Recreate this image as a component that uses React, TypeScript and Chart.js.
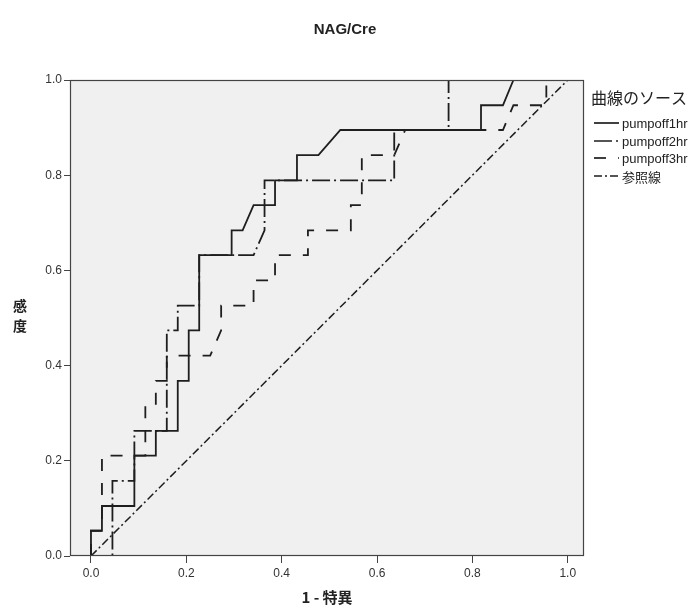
import React, { useEffect, useRef } from "react";
import { Chart, registerables } from "chart.js";
Chart.register(...registerables);

// ROC curve data (1 - specificity, sensitivity)
const fpr1 = [0, 0, 0.023, 0.023, 0.091, 0.091, 0.136, 0.136, 0.182, 0.182, 0.205, 0.205, 0.227, 0.227, 0.295, 0.295, 0.318, 0.341, 0.386, 0.386, 0.432, 0.432, 0.477, 0.523, 0.818, 0.818, 0.864, 0.886, 1];
const tpr1 = [0, 0.053, 0.053, 0.105, 0.105, 0.211, 0.211, 0.263, 0.263, 0.368, 0.368, 0.474, 0.474, 0.632, 0.632, 0.684, 0.684, 0.737, 0.737, 0.789, 0.789, 0.842, 0.842, 0.895, 0.895, 0.947, 0.947, 1, 1];

const fpr2 = [0, 0.045, 0.045, 0.091, 0.091, 0.159, 0.159, 0.182, 0.182, 0.227, 0.227, 0.341, 0.364, 0.364, 0.636, 0.636, 0.75, 0.75, 1];
const tpr2 = [0, 0, 0.158, 0.158, 0.263, 0.263, 0.474, 0.474, 0.526, 0.526, 0.632, 0.632, 0.684, 0.789, 0.789, 0.895, 0.895, 1, 1];

const fpr3 = [0, 0, 0.023, 0.023, 0.114, 0.114, 0.136, 0.136, 0.159, 0.159, 0.25, 0.273, 0.273, 0.341, 0.341, 0.386, 0.386, 0.455, 0.455, 0.545, 0.545, 0.568, 0.568, 0.636, 0.659, 0.864, 0.886, 0.955, 0.955, 1];
const tpr3 = [0, 0.053, 0.053, 0.211, 0.211, 0.316, 0.316, 0.368, 0.368, 0.421, 0.421, 0.474, 0.526, 0.526, 0.579, 0.579, 0.632, 0.632, 0.684, 0.684, 0.737, 0.737, 0.842, 0.842, 0.895, 0.895, 0.947, 0.947, 1, 1];

const fprRef = [0, 1];
const tprRef = [0, 1];

const xTicks = [0, 0.2, 0.4, 0.6, 0.8, 1.0];
const yTicks = [0, 0.2, 0.4, 0.6, 0.8, 1.0];
const seriesNames = ["pumpoff1hr", "pumpoff2hr", "pumpoff3hr", "参照線"];
const chartTitle = "NAG/Cre";
const xTitle = "1 - 特異";
const yTitle = "感度";
const legendTitle = "曲線のソース";

const LINE = "#1e1e1e";
const DASHES: number[][] = [[], [18, 4, 2, 4], [12, 12], [8, 3, 2, 3]];
const FONT = "'Liberation Sans', Arial, 'Noto Sans CJK JP', sans-serif";
const CJK = "'Noto Sans CJK JP', 'Liberation Sans', sans-serif";

const toPts = (xs: number[], ys: number[]) => xs.map((x, i) => ({ x, y: ys[i] }));

const decor = {
  id: "decor",
  beforeDraw(chart: any) {
    const { ctx, chartArea: a } = chart;
    ctx.save();
    ctx.fillStyle = "#f0f0f0";
    ctx.fillRect(a.left, a.top, a.right - a.left, a.bottom - a.top);
    ctx.restore();
  },
  afterDatasetsDraw(chart: any) {
    const { ctx, chartArea: a } = chart;
    ctx.save();
    ctx.strokeStyle = "#444";
    ctx.lineWidth = 1.2;
    ctx.setLineDash([]);
    ctx.strokeRect(a.left + 0.5, a.top + 0.5, a.right - a.left - 1, a.bottom - a.top - 1);

    // title
    ctx.fillStyle = "#222";
    ctx.textAlign = "center";
    ctx.textBaseline = "middle";
    ctx.font = `bold 15px ${FONT}`;
    ctx.fillText(chartTitle, 345, 30);

    // x title
    ctx.font = `bold 15px ${CJK}`;
    ctx.fillText(xTitle, (a.left + a.right) / 2, 597);

    // y title (stacked)
    ctx.font = `bold 14px ${CJK}`;
    const chars = Array.from(yTitle);
    chars.forEach((c, i) => ctx.fillText(c, 20, 306 + i * 20));

    // legend
    ctx.textAlign = "left";
    ctx.font = `16px ${CJK}`;
    ctx.fillText(legendTitle, 591, 98);
    const ys = [123, 141, 158, 176];
    seriesNames.forEach((n, i) => {
      ctx.strokeStyle = LINE;
      ctx.lineWidth = 1.7;
      ctx.setLineDash(DASHES[i]);
      ctx.beginPath();
      ctx.moveTo(594, ys[i]);
      ctx.lineTo(619, ys[i]);
      ctx.stroke();
      ctx.setLineDash([]);
      ctx.fillStyle = "#222";
      ctx.font = i === 3 ? `13px ${CJK}` : `13px ${FONT}`;
      ctx.fillText(n, 622, ys[i] + 1);
    });
    ctx.restore();
  },
};

export default function App() {
  const ref = useRef<HTMLCanvasElement>(null);
  useEffect(() => {
    if (!ref.current) return;
    const mk = (i: number, xs: number[], ys: number[]) => ({
      label: seriesNames[i],
      data: toPts(xs, ys),
      showLine: true,
      borderColor: LINE,
      backgroundColor: LINE,
      borderWidth: i === 3 ? 1.5 : 1.8,
      borderDash: DASHES[i],
      pointRadius: 0,
      tension: 0,
      fill: false,
    });
    const chart = new Chart(ref.current, {
      type: "scatter",
      data: {
        datasets: [
          mk(3, fprRef, tprRef),
          mk(2, fpr3, tpr3),
          mk(1, fpr2, tpr2),
          mk(0, fpr1, tpr1),
        ],
      },
      options: {
        responsive: false,
        animation: false,
        devicePixelRatio: 1,
        layout: { padding: { top: 80, right: 115, left: 0, bottom: 0 } },
        plugins: { legend: { display: false }, title: { display: false }, tooltip: { enabled: false } },
        scales: {
          x: {
            type: "linear",
            min: -0.044,
            max: 1.034,
            afterBuildTicks: (s: any) => { s.ticks = xTicks.map((v) => ({ value: v })); },
            afterFit: (s: any) => { s.height = 57; },
            grid: { drawOnChartArea: false, drawTicks: true, tickLength: 7, color: "#444", lineWidth: 1 },
            border: { display: false },
            ticks: { color: "#333", font: { family: FONT, size: 12 }, padding: 3, maxRotation: 0, callback: (v: any) => Number(v).toFixed(1) },
          },
          y: {
            type: "linear",
            min: 0,
            max: 1,
            afterBuildTicks: (s: any) => { s.ticks = yTicks.map((v) => ({ value: v })); },
            afterFit: (s: any) => { s.width = 70; },
            grid: { drawOnChartArea: false, drawTicks: true, tickLength: 6, color: "#444", lineWidth: 1 },
            border: { display: false },
            ticks: { color: "#333", font: { family: FONT, size: 12 }, padding: 2, callback: (v: any) => Number(v).toFixed(1) },
          },
        },
      },
      plugins: [decor],
    } as any);
    return () => chart.destroy();
  }, []);
  return (
    <div style={{ position: "fixed", left: 0, top: 0, width: 699, height: 613, background: "#fff" }}>
      <canvas ref={ref} width={699} height={613} style={{ width: 699, height: 613 }} />
    </div>
  );
}
